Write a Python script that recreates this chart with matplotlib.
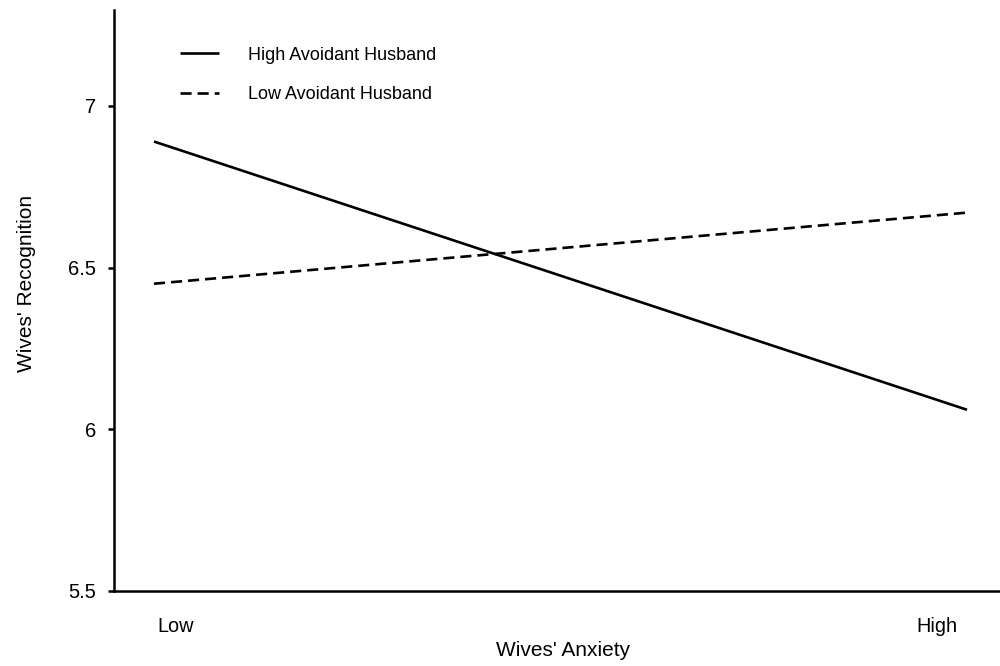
import matplotlib
matplotlib.use("Agg")
import matplotlib.pyplot as plt

plt.rcParams['font.family'] = ['Liberation Sans', 'DejaVu Sans']

x_positions = [0, 1]
x_labels = ["Low", "High"]
high_avoidant = [6.89, 6.06]
low_avoidant = [6.45, 6.67]
y_ticks = [5.5, 6, 6.5, 7]
y_ticklabels = ["5.5", "6", "6.5", "7"]

fig = plt.figure(figsize=(10, 6.66), dpi=100)
ax = fig.add_axes([0.114, 0.113, 0.886, 0.872])

lw = 1.9
ax.plot(x_positions, high_avoidant, color='black', lw=lw, solid_capstyle='butt',
        label='High Avoidant Husband')
ax.plot(x_positions, low_avoidant, color='black', lw=lw,
        linestyle=(0, (8 / lw, 4.3 / lw)), dash_capstyle='butt',
        label='Low Avoidant Husband')

ax.set_xlim(-0.0492, 1.0406)
ax.set_ylim(5.5, 7.297)

ax.set_yticks(y_ticks)
ax.set_yticklabels(y_ticklabels, fontsize=14.5)
ax.tick_params(axis='y', length=4.5, width=1.8, pad=8.5, colors='black')

ax.set_xticks([0.027, 0.963])
ax.set_xticklabels(x_labels, fontsize=14.3)
ax.tick_params(axis='x', length=0, pad=19)

for s in ['top', 'right']:
    ax.spines[s].set_visible(False)
for s in ['left', 'bottom']:
    ax.spines[s].set_linewidth(1.8)

ax.set_xlabel("Wives' Anxiety", fontsize=15)
ax.xaxis.set_label_coords(0.5073, -0.087)
ax.set_ylabel("Wives' Recognition", fontsize=15)
ax.yaxis.set_label_coords(-0.0885, 0.53)

leg = ax.legend(loc='upper left', bbox_to_anchor=(0.074, 0.937), frameon=False,
                fontsize=13, handlelength=2.2, handletextpad=1.6,
                labelspacing=1.26, borderpad=0, borderaxespad=0)

fig.savefig("out.png", dpi=100)
